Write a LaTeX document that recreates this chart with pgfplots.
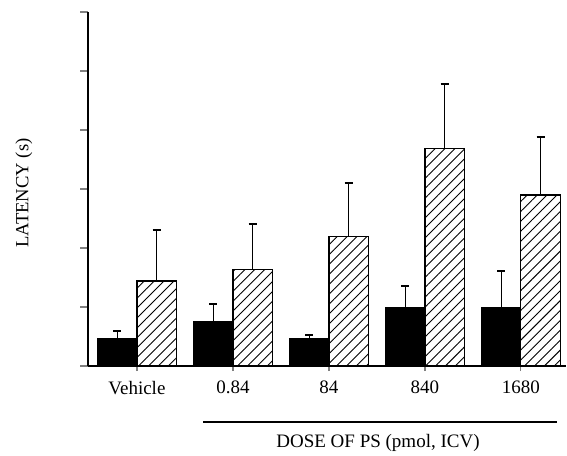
\documentclass[border=0pt]{standalone}
\usepackage{pgfplots}
\pgfplotsset{compat=1.18}
\usepackage{fontspec}
\setmainfont{Liberation Serif}
\usetikzlibrary{patterns.meta}
\begin{document}
\begin{tikzpicture}
\useasboundingbox (-44pt,-44.5pt) rectangle (239.5pt,183pt);
\begin{axis}[
  at={(0,0)}, anchor=south west,
  scale only axis, width=239pt, height=177pt,
  xmin=-0.51, xmax=4.47, ymin=0, ymax=6,
  axis x line=bottom, axis y line=left,
  axis line style={-, line width=0.6pt},
  xtick={0,1,2,3,4},
  xticklabels={Vehicle,0.84,84,840,1680},
  ytick={0,1,2,3,4,5,6}, yticklabels={},
  tick align=outside, major tick length=4pt,
  xtick style={line width=0.6pt, /pgfplots/major tick length=2.5pt},
  ytick style={line width=0.6pt},
  tick label style={font=\fontsize{9.5}{11}\selectfont},
  ybar, bar width=0.41,
  clip=false,
  error bars/y dir=plus, error bars/y explicit,
  error bars/error mark=|,
  error bars/error mark options={draw=black, solid, mark size=2pt, line width=0.8pt},
  error bars/error bar style={draw=black, solid, line width=0.5pt},
]
\addplot[draw=black, fill=black, bar shift=-0.205] coordinates {
  (0,0.46) +- (0,0.13)
  (1,0.76) +- (0,0.29)
  (2,0.47) +- (0,0.06)
  (3,1.00) +- (0,0.36)
  (4,1.00) +- (0,0.61)
};
\addplot[draw=black, line width=0.6pt, bar shift=0.205,
  pattern={Lines[angle=45,distance=3.5pt,line width=0.45pt]}] coordinates {
  (0,1.44) +- (0,0.87)
  (1,1.64) +- (0,0.77)
  (2,2.19) +- (0,0.91)
  (3,3.68) +- (0,1.10)
  (4,2.90) +- (0,0.98)
};
\end{axis}
\node[rotate=90, anchor=base, inner sep=0pt, font=\fontsize{9.3}{11}\selectfont] at (-29.75pt,86.5pt) {LATENCY (s)};
\draw[line width=0.7pt] (57.5pt,-28pt) -- (234.5pt,-28pt);
\node[anchor=base, font=\fontsize{9.5}{11}\selectfont, inner sep=0pt] at (145pt,-40.5pt) {DOSE OF PS (pmol, ICV)};
\end{tikzpicture}
\end{document}
